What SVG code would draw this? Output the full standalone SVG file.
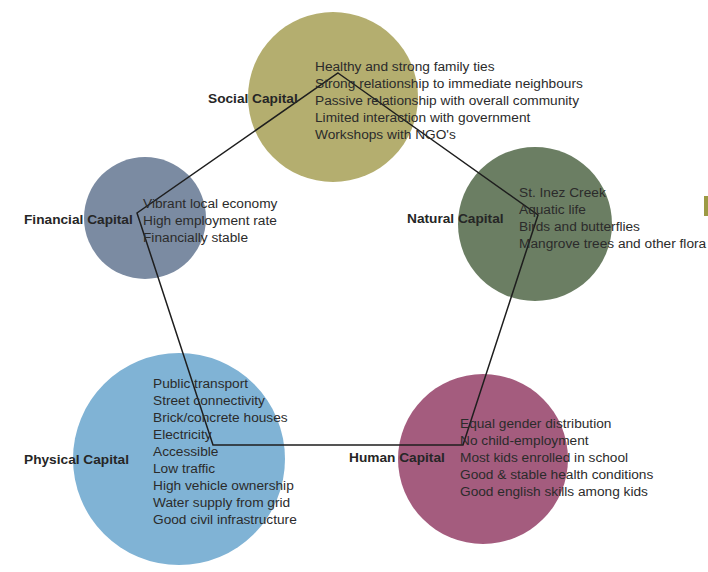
<svg xmlns="http://www.w3.org/2000/svg" width="708" height="572" viewBox="0 0 708 572">
<style>
.lbl{font-family:"Liberation Sans",Arial,sans-serif;font-size:13.7px;font-weight:bold;fill:#262626}
.li{font-family:"Liberation Sans",Arial,sans-serif;font-size:13.7px;fill:#2b2b2b}
.edge{stroke:#1e1e1e;stroke-width:1.5;fill:none}
</style>
<rect width="708" height="572" fill="#ffffff"/>
<rect x="704" y="196" width="4" height="20" fill="#9c9a44"/>
<g id="circles">
<circle id="c-social" cx="333" cy="97" r="85" fill="#b4ae6f"/>
<circle id="c-financial" cx="145" cy="218" r="61" fill="#7b8ba2"/>
<circle id="c-natural" cx="535" cy="224" r="77" fill="#6b7e63"/>
<circle id="c-physical" cx="179" cy="459" r="106" fill="#80b3d5"/>
<circle id="c-human" cx="483" cy="459" r="85" fill="#a45c7e"/>
</g>
<g id="connectors">
<polygon class="edge" points="338,73 538,215 463,445 213,445 137,213"/>
</g>
<g id="social">
<text class="lbl" x="208" y="103">Social Capital</text>
<text class="li" x="315" y="71">Healthy and strong family ties</text>
<text class="li" x="315" y="88">Strong relationship to immediate neighbours</text>
<text class="li" x="315" y="105">Passive relationship with overall community</text>
<text class="li" x="315" y="122">Limited interaction with government</text>
<text class="li" x="315" y="139">Workshops with NGO's</text>
</g>
<g id="financial">
<text class="lbl" x="24" y="224">Financial Capital</text>
<text class="li" x="143" y="208">Vibrant local economy</text>
<text class="li" x="143" y="225">High employment rate</text>
<text class="li" x="143" y="242">Financially stable</text>
</g>
<g id="natural">
<text class="lbl" x="407" y="223">Natural Capital</text>
<text class="li" x="519" y="197">St. Inez Creek</text>
<text class="li" x="519" y="214">Aquatic life</text>
<text class="li" x="519" y="231">Birds and butterflies</text>
<text class="li" x="519" y="248">Mangrove trees and other flora</text>
</g>
<g id="physical">
<text class="lbl" x="24" y="464">Physical Capital</text>
<text class="li" x="153" y="388">Public transport</text>
<text class="li" x="153" y="405">Street connectivity</text>
<text class="li" x="153" y="422">Brick/concrete houses</text>
<text class="li" x="153" y="439">Electricity</text>
<text class="li" x="153" y="456">Accessible</text>
<text class="li" x="153" y="473">Low traffic</text>
<text class="li" x="153" y="490">High vehicle ownership</text>
<text class="li" x="153" y="507">Water supply from grid</text>
<text class="li" x="153" y="524">Good civil infrastructure</text>
</g>
<g id="human">
<text class="lbl" x="349" y="462">Human Capital</text>
<text class="li" x="460" y="428">Equal gender distribution</text>
<text class="li" x="460" y="445">No child-employment</text>
<text class="li" x="460" y="462">Most kids enrolled in school</text>
<text class="li" x="460" y="479">Good &amp; stable health conditions</text>
<text class="li" x="460" y="496">Good english skills among kids</text>
</g>
</svg>
